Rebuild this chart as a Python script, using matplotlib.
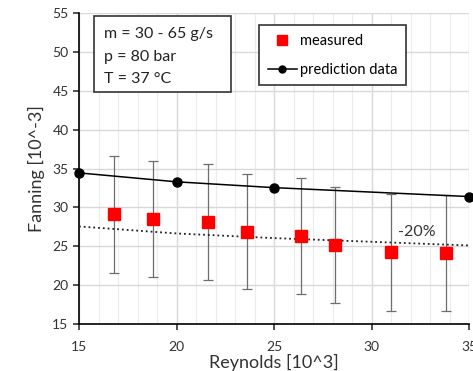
import matplotlib.pyplot as plt
from matplotlib.ticker import MultipleLocator
from matplotlib.lines import Line2D
from matplotlib.patches import Rectangle

plt.rcParams['font.family'] = ['Lato', 'DejaVu Sans']

# measured data
re_meas = [16.8, 18.8, 21.6, 23.6, 26.4, 28.1, 31.0, 33.8]
f_meas = [29.1, 28.5, 28.15, 26.9, 26.3, 25.2, 24.2, 24.1]
f_err = [7.5, 7.5, 7.45, 7.45, 7.45, 7.45, 7.5, 7.45]

# prediction
re_pred = [15, 20, 25, 35]
f_pred = [34.45, 33.3, 32.55, 31.4]
f_minus20 = [27.55, 26.65, 26.05, 25.1]

fig = plt.figure(figsize=(4.73, 3.71), dpi=100)
ax = fig.add_axes([0.167, 0.127, 0.825, 0.837])

ax.errorbar(re_meas, f_meas, yerr=f_err, fmt='none', ecolor='#6e6e6e',
            elinewidth=0.9, capsize=3.5, capthick=0.9, zorder=2)
ax.plot(re_meas, f_meas, 's', color='#ff0000', markersize=8.5, zorder=4)
ax.plot(re_pred, f_pred, '-', color='black', lw=1.1, zorder=3)
ax.plot(re_pred, f_pred, 'o', color='black', markersize=6.5, zorder=5, clip_on=False)
ax.plot(re_pred, f_minus20, ':', color='#222222', lw=1.3, zorder=3)
ax.text(32.3, 26.9, '-20%', fontsize=11.5, color='#333333', ha='center', va='center')

ax.set_xlim(15, 35)
ax.set_ylim(15, 55)
ax.xaxis.set_major_locator(MultipleLocator(5))
ax.xaxis.set_minor_locator(MultipleLocator(1))
ax.yaxis.set_major_locator(MultipleLocator(5))
ax.grid(which='major', color='#d9d9d9', lw=1.0)
ax.grid(which='minor', axis='x', color='#ececec', lw=0.8)
ax.set_axisbelow(True)
for s in ['top', 'right']:
    ax.spines[s].set_visible(False)
for s in ['left', 'bottom']:
    ax.spines[s].set_linewidth(1.2)
ax.tick_params(which='major', direction='out', length=4, width=1.2, labelsize=10, colors='#333333')
ax.tick_params(which='minor', length=0)
ax.tick_params(axis='x', pad=8)

ax.set_xlabel('Reynolds [10^3]', fontsize=13, color='#333333', labelpad=1)
ax.set_ylabel('Fanning [10^-3]', fontsize=13, color='#333333', labelpad=5)

# info box
ax.add_patch(Rectangle((0.0385, 0.748), 0.352, 0.245, transform=ax.transAxes,
                       fc='white', ec='#333333', lw=1.2, zorder=6))
ax.text(0.064, 0.955, 'm = 30 - 65 g/s\np = 80 bar\nT = 37 °C',
        transform=ax.transAxes, fontsize=11.5, va='top', ha='left', linespacing=1.75,
        color='#222222', zorder=7)

handles = [Line2D([], [], ls='none', marker='s', color='#ff0000', markersize=7),
           Line2D([], [], color='black', marker='o', markersize=5, lw=1.1)]
leg = ax.legend(handles, ['measured', 'prediction data'], loc='upper left',
                bbox_to_anchor=(0.443, 0.985), fontsize=10.5, fancybox=False,
                framealpha=1, edgecolor='#333333', labelspacing=1.0,
                handlelength=2.0, handletextpad=0.2, borderpad=0.6)
leg.get_frame().set_linewidth(1.2)

fig.savefig('out.png', dpi=100)
